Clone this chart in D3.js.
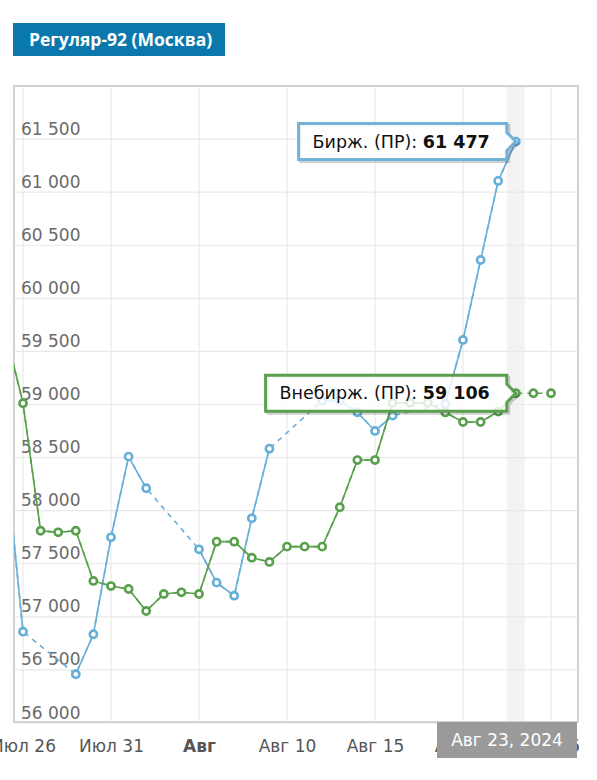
<!DOCTYPE html>
<html>
<head>
<meta charset="utf-8">
<script src="https://cdn.jsdelivr.net/npm/d3@7"></script>
<style>
  html, body { margin: 0; padding: 0; background: #fff; }
  svg { display: block; }
</style>
</head>
<body>
<svg id="chart" width="597" height="780"></svg>
<script>
// ---------- DATA ----------
const title = "Регуляр-92 (Москва)";
const dates = ["2024-07-25","2024-07-26","2024-07-27","2024-07-28","2024-07-29","2024-07-30","2024-07-31",
  "2024-08-01","2024-08-02","2024-08-03","2024-08-04","2024-08-05","2024-08-06","2024-08-07","2024-08-08",
  "2024-08-09","2024-08-10","2024-08-11","2024-08-12","2024-08-13","2024-08-14","2024-08-15","2024-08-16",
  "2024-08-17","2024-08-18","2024-08-19","2024-08-20","2024-08-21","2024-08-22","2024-08-23","2024-08-24","2024-08-25"];
// Биржевая цена (ПР)
const exchangeValues = [58530, 56860, null, null, 56459, 56836, 57749,
  58509, 58211, null, null, 57636, 57322, 57199, 57928,
  58584, null, null, 59036, 59036, 58927, 58751, 58895,
  null, null, 59005, 59608, 60361, 61106, 61477, null, null];
// Внебиржевая цена (ПР)
const otcValues = [59690, 59012, 57811, 57796, 57811, 57338, 57290,
  57262, 57055, 57215, 57231, 57215, 57708, 57708, 57557,
  57517, 57661, 57661, 57661, 58032, 58477, 58477, 59015,
  59015, 59015, 58925, 58835, 58835, 58933, 59106, 59106, 59106];
const otcEstimated = ["2024-08-24","2024-08-25"];
const seriesNames = ["Бирж. (ПР): ", "Внебирж. (ПР): "];
const yTicks = [56000, 56500, 57000, 57500, 58000, 58500, 59000, 59500, 60000, 60500, 61000, 61500];
const xTickDates = ["2024-07-26","2024-07-31","2024-08-05","2024-08-10","2024-08-15","2024-08-20","2024-08-25"];
const xTickLabels = ["Июл 26","Июл 31","Авг","Авг 10","Авг 15","Авг 20","Авг 25"];
const cursorDate = "2024-08-23";
const cursorLabel = "Авг 23, 2024";

// ---------- SETUP ----------
const parse = d3.timeParse("%Y-%m-%d");
const svg = d3.select("#chart");
const plot = {left: 14, top: 86, right: 578, bottom: 722};
const blue = "#66afd8", green = "#58a04c";
const FONT = "'DejaVu Sans', Verdana, sans-serif";
const fmt = d3.formatLocale({decimal: ",", thousands: " ", grouping: [3], currency: ["", ""]}).format(",d");

const x = d3.scaleTime()
  .domain([parse("2024-07-26"), parse("2024-08-25")])
  .range([23, 551]);
const y = d3.scaleLinear().domain([56000, 62000]).range([723, 86]);

const exch = dates.map((d, i) => ({date: parse(d), v: exchangeValues[i]}));
const otc = dates.map((d, i) => ({date: parse(d), v: otcValues[i], est: otcEstimated.includes(d)}));

// clip
svg.append("defs").append("clipPath").attr("id", "plotclip")
  .append("rect").attr("x", plot.left).attr("y", plot.top)
  .attr("width", plot.right - plot.left).attr("height", plot.bottom - plot.top);

// title
svg.append("rect").attr("x", 13).attr("y", 23).attr("width", 212).attr("height", 33).attr("fill", "#0a78ad");
svg.append("text").attr("x", 29).attr("y", 45.5).text(title)
  .attr("fill", "#fff").attr("font-family", "'Open Sans', sans-serif").attr("font-weight", 700).attr("font-size", 17.5);

// cursor band
const cd = parse(cursorDate);
const halfDay = (x(d3.timeDay.offset(cd, 1)) - x(cd)) / 2;
svg.append("rect").attr("x", x(cd) - halfDay).attr("y", plot.top)
  .attr("width", halfDay * 2).attr("height", plot.bottom - plot.top).attr("fill", "#f3f3f3");

// grid
const grid = svg.append("g").attr("stroke", "#e9e9e9").attr("stroke-width", 1.2);
grid.selectAll("line.h").data(yTicks).join("line")
  .attr("x1", plot.left).attr("x2", plot.right)
  .attr("y1", d => y(d)).attr("y2", d => y(d));
grid.selectAll("line.v").data(xTickDates).join("line")
  .attr("x1", d => x(parse(d))).attr("x2", d => x(parse(d)))
  .attr("y1", plot.top).attr("y2", plot.bottom);

// border
svg.append("rect").attr("x", plot.left).attr("y", plot.top)
  .attr("width", plot.right - plot.left).attr("height", plot.bottom - plot.top)
  .attr("fill", "none").attr("stroke", "#d2d2d2").attr("stroke-width", 2);

// y labels
svg.append("g").selectAll("text").data(yTicks).join("text")
  .attr("x", 21).attr("y", d => y(d) - 4.5)
  .attr("fill", "#6a6a6a").attr("font-family", FONT).attr("font-size", 17)
  .text(d => fmt(d));

// lines
const lines = svg.append("g").attr("clip-path", "url(#plotclip)");
function drawSeries(data, color, solidDefined) {
  const pts = data.filter(d => d.v != null);
  lines.append("path").datum(pts)
    .attr("fill", "none").attr("stroke", color).attr("stroke-width", 1.6)
    .attr("stroke-dasharray", "5,5")
    .attr("d", d3.line().x(d => x(d.date)).y(d => y(d.v)));
  lines.append("path").datum(data)
    .attr("fill", "none").attr("stroke", color).attr("stroke-width", 1.6)
    .attr("d", d3.line().defined(solidDefined).x(d => x(d.date)).y(d => y(d.v)));
  lines.append("g").selectAll("circle").data(pts).join("circle")
    .attr("cx", d => x(d.date)).attr("cy", d => y(d.v)).attr("r", 3.6)
    .attr("fill", "#fff").attr("stroke", color).attr("stroke-width", 2.6);
}
drawSeries(exch, blue, d => d.v != null);
drawSeries(otc, green, d => d.v != null && !d.est);

// tooltips
function tooltip(series, color, name) {
  const p = series.find(d => +d.date === +cd);
  const px = x(p.date), py = y(p.v);
  const g = svg.append("g");
  const t = g.append("text").attr("font-family", FONT).attr("font-size", 17.5).attr("fill", "#111");
  t.append("tspan").text(name);
  t.append("tspan").attr("font-weight", "bold").text(fmt(p.v));
  const w = t.node().getComputedTextLength();
  const right = px - 9, left = right - w - 31, top = py - 18, bot = py + 18;
  const path = `M${left},${top}H${right}V${py - 9}L${px},${py}L${right},${py + 9}V${bot}H${left}Z`;
  g.insert("path", "text").attr("d", path).attr("transform", "translate(2,2)")
    .attr("fill", "none").attr("stroke", "#000").attr("stroke-opacity", 0.18).attr("stroke-width", 3);
  g.insert("path", "text").attr("d", path)
    .attr("fill", "#fff").attr("fill-opacity", 0.82).attr("stroke", color).attr("stroke-width", 3)
    .attr("stroke-linejoin", "miter");
  t.attr("x", left + 14).attr("y", py + 6);
}
tooltip(exch, "#72b2d7", seriesNames[0]);
tooltip(otc, "#5a9f4e", seriesNames[1]);

// x axis
const xAxis = d3.axisBottom(x)
  .tickValues(xTickDates.map(parse))
  .tickFormat((d, i) => xTickLabels[i])
  .tickSize(0);
const ax = svg.append("g").attr("transform", `translate(0,${plot.bottom})`).call(xAxis);
ax.select(".domain").remove();
ax.selectAll("text")
  .attr("y", 30).attr("dy", null)
  .attr("fill", "#555").attr("font-family", FONT).attr("font-size", 17)
  .attr("font-weight", (d, i) => xTickLabels[i] === "Авг" ? "bold" : null);

// cursor balloon
svg.append("rect").attr("x", 437).attr("y", 722).attr("width", 140).attr("height", 36).attr("fill", "#9a9a9a");
svg.append("text").attr("x", 507).attr("y", 746).attr("text-anchor", "middle")
  .attr("fill", "#fff").attr("font-family", FONT).attr("font-size", 17)
  .text(cursorLabel);
</script>
</body>
</html>
